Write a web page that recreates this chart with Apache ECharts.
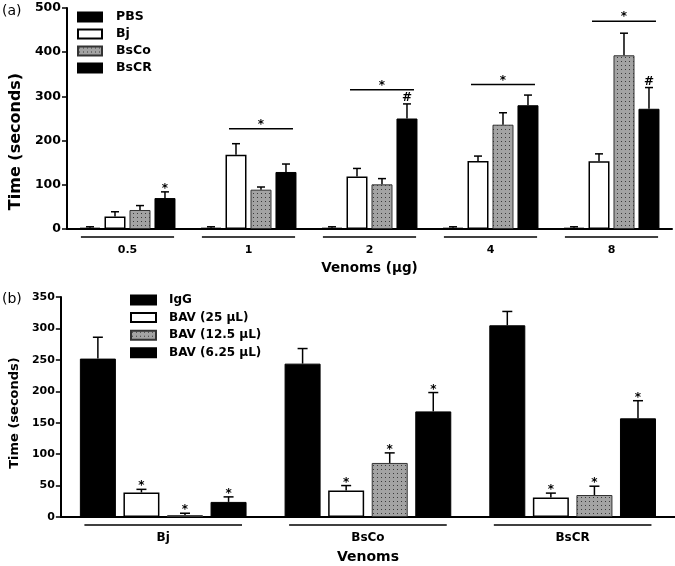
<!DOCTYPE html>
<html><head><meta charset="utf-8">
<script src="https://cdn.jsdelivr.net/npm/echarts@6/dist/echarts.min.js"></script>
<style>html,body{margin:0;padding:0;background:#fff}#c{width:675px;height:566px}</style>
</head><body><div id="c"></div>
<script>
// ---------- Panel (a) data ----------
const catsA = ['0.5', '1', '2', '4', '8'];
const namesA = ['PBS', 'Bj', 'BsCo', 'BsCR'];
const valPBS  = [3, 3, 3, 3, 3];
const errPBS  = [2, 2, 2, 2, 2];
const valBj   = [28, 168, 119, 154, 153];
const errBj   = [11, 25, 18, 11, 17];
const valBsCo = [43, 89, 101, 236, 393];
const errBsCo = [10, 6, 13, 27, 50];
const valBsCR = [70, 129, 250, 280, 272];
const errBsCR = [14, 18, 33, 23, 48];
const markPBS  = ['', '', '', '', ''];
const markBj   = ['', '', '', '', ''];
const markBsCo = ['', '', '', '', ''];
const markBsCR = ['*', '', '#', '', '#'];
const sigCatA  = [1, 2, 3, 4];          // category index of significance line
const sigValA  = [227, 315, 327, 470];   // y value of significance line
const ticksA = [0, 100, 200, 300, 400, 500];

// ---------- Panel (b) data ----------
const catsB = ['Bj', 'BsCo', 'BsCR'];
const namesB = ['IgG', 'BAV (25 µL)', 'BAV (12.5 µL)', 'BAV (6.25 µL)'];
const valIgG  = [252, 244, 305];
const errIgG  = [34, 24, 22];
const val25   = [39, 42, 31];
const err25   = [5, 8, 7];
const val125  = [3, 86, 35];
const err125  = [3, 16, 14];
const val625  = [24, 168, 157];
const err625  = [8, 30, 28];
const markIgG = ['', '', ''];
const mark25  = ['*', '*', '*'];
const mark125 = ['*', '*', '*'];
const mark625 = ['*', '*', '*'];
const ticksB = [0, 50, 100, 150, 200, 250, 300, 350];

// ---------- styling ----------
const FONT = 'DejaVu Sans';
const pc = document.createElement('canvas');
pc.width = 4; pc.height = 4;
const g = pc.getContext('2d');
g.fillStyle = '#a3a3a3'; g.fillRect(0, 0, 4, 4);
g.fillStyle = '#3a3a3a'; g.fillRect(1, 1, 1, 1);
const dotted = { image: pc, repeat: 'repeat' };
const styles = [
  { color: '#000', borderColor: '#000', borderWidth: 1 },
  { color: '#fff', borderColor: '#000', borderWidth: 1.5 },
  { color: dotted, borderColor: '#333', borderWidth: 1 },
  { color: '#000', borderColor: '#000', borderWidth: 1 }
];
const BW_A = 21, GAP_A = 0.19, BW_B = 36, GAP_B = 0.21;

function barSeries(names, vals, idx, bw, gap) {
  return names.map((n, s) => ({
    type: 'bar', name: n, xAxisIndex: idx, yAxisIndex: idx,
    data: vals[s], barWidth: bw, barGap: (gap * 100) + '%',
    itemStyle: styles[s], silent: true, z: 2
  }));
}

function errSeries(vals, errs, marks, idx, bw, gap, capW, fs) {
  const data = [], meta = [];
  vals.forEach((arr, s) => arr.forEach((v, c) => {
    data.push([c, v + errs[s][c], v]);
    meta.push({ s: s, mark: marks[s][c] });
  }));
  return {
    type: 'custom', xAxisIndex: idx, yAxisIndex: idx, data: data,
    encode: { x: 0, y: [1, 2] }, z: 5, silent: true, clip: false,
    renderItem(params, api) {
      const m = meta[params.dataIndex];
      const step = bw * (1 + gap);
      const off = (m.s - 1.5) * step;
      const top = api.coord([api.value(0), api.value(1)]);
      const base = api.coord([api.value(0), api.value(2)]);
      const x = top[0] + off;
      const ch = [
        { type: 'line', shape: { x1: x, y1: base[1], x2: x, y2: top[1] }, style: { stroke: '#000', lineWidth: 1.5 } },
        { type: 'line', shape: { x1: x - capW / 2, y1: top[1], x2: x + capW / 2, y2: top[1] }, style: { stroke: '#000', lineWidth: 1.5 } }
      ];
      if (m.mark) ch.push({ type: 'text', x: x, y: top[1] - (m.mark === '#' ? 0 : -3),
        style: { text: m.mark, font: 'bold ' + fs + 'px ' + FONT, textAlign: 'center', textVerticalAlign: 'bottom', fill: '#000' } });
      return { type: 'group', children: ch };
    }
  };
}

function sigSeries(cats, vals, idx, bw, gap) {
  return {
    type: 'custom', xAxisIndex: idx, yAxisIndex: idx,
    data: cats.map((c, i) => [c, vals[i]]), encode: { x: 0, y: 1 }, z: 5, silent: true, clip: false,
    renderItem(params, api) {
      const p = api.coord([api.value(0), api.value(1)]);
      const step = bw * (1 + gap);
      const x1 = p[0] - 0.5 * step - 7, x2 = p[0] + 1.5 * step + 7;
      return { type: 'group', children: [
        { type: 'line', shape: { x1: x1, y1: p[1], x2: x2, y2: p[1] }, style: { stroke: '#000', lineWidth: 1.5 } },
        { type: 'text', x: (x1 + x2) / 2, y: p[1] + 2, style: { text: '*', font: 'bold 12px ' + FONT, textAlign: 'center', textVerticalAlign: 'bottom', fill: '#000' } }
      ] };
    }
  };
}

function underSeries(n, idx) {
  return {
    type: 'custom', xAxisIndex: idx, yAxisIndex: idx,
    data: Array.from({ length: n }, (_, i) => [i, 0]), encode: { x: 0, y: 1 }, z: 5, silent: true, clip: false,
    renderItem(params, api) {
      const p = api.coord([api.value(0), 0]);
      const half = api.size([1, 0])[0] * 0.385;
      return { type: 'line', shape: { x1: p[0] - half, y1: p[1] + 8, x2: p[0] + half, y2: p[1] + 8 }, style: { stroke: '#000', lineWidth: 1.5 } };
    }
  };
}

const valsA = [valPBS, valBj, valBsCo, valBsCR];
const errsA = [errPBS, errBj, errBsCo, errBsCR];
const marksA = [markPBS, markBj, markBsCo, markBsCR];
const valsB = [valIgG, val25, val125, val625];
const errsB = [errIgG, err25, err125, err625];
const marksB = [markIgG, mark25, mark125, mark625];

const axisLine = { show: true, lineStyle: { color: '#000', width: 2 } };
const chart = echarts.init(document.getElementById('c'), null, { renderer: 'canvas' });
chart.setOption({
  animation: false,
  backgroundColor: '#fff',
  textStyle: { fontFamily: FONT },
  grid: [
    { left: 58, right: 3, top: 8, height: 221 },
    { left: 57, right: 0, top: 297, height: 220 }
  ],
  legend: [
    { data: namesA, orient: 'vertical', left: 72, top: 5, itemWidth: 24, itemHeight: 9, itemGap: 3,
      icon: 'rect', selectedMode: false,
      textStyle: { fontFamily: FONT, fontWeight: 'bold', fontSize: 12.5, lineHeight: 14, color: '#000', padding: [0, 0, 0, 9] } },
    { data: namesB, orient: 'vertical', left: 125, top: 288, itemWidth: 25, itemHeight: 9, itemGap: 3.6,
      icon: 'rect', selectedMode: false,
      textStyle: { fontFamily: FONT, fontWeight: 'bold', fontSize: 12, lineHeight: 14, color: '#000', padding: [0, 0, 0, 8] } }
  ],
  xAxis: [
    { type: 'category', gridIndex: 0, data: catsA, axisLine: axisLine, axisTick: { show: false },
      axisLabel: { color: '#000', fontFamily: FONT, fontWeight: 'bold', fontSize: 11, margin: 16 },
      name: 'Venoms (µg)', nameLocation: 'middle', nameGap: 32,
      nameTextStyle: { color: '#000', fontFamily: FONT, fontWeight: 'bold', fontSize: 13.5 } },
    { type: 'category', gridIndex: 1, data: catsB, axisLine: axisLine, axisTick: { show: false },
      axisLabel: { color: '#000', fontFamily: FONT, fontWeight: 'bold', fontSize: 12, margin: 15 },
      name: 'Venoms', nameLocation: 'middle', nameGap: 33,
      nameTextStyle: { color: '#000', fontFamily: FONT, fontWeight: 'bold', fontSize: 14 } }
  ],
  yAxis: [
    { type: 'value', gridIndex: 0, min: 0, max: 500, interval: 100, axisLine: axisLine,
      axisTick: { show: true, length: 5, lineStyle: { color: '#000', width: 1.5 } }, splitLine: { show: false },
      axisLabel: { color: '#000', fontFamily: FONT, fontWeight: 'bold', fontSize: 12.5, margin: 6,
        customValues: ticksA },
      name: 'Time (seconds)', nameLocation: 'middle', nameGap: 38,
      nameTextStyle: { color: '#000', fontFamily: FONT, fontWeight: 'bold', fontSize: 16, padding: [0, 46, 0, 0] } },
    { type: 'value', gridIndex: 1, min: 0, max: 350, interval: 50, axisLine: axisLine,
      axisTick: { show: true, length: 5, lineStyle: { color: '#000', width: 1.5 } }, splitLine: { show: false },
      axisLabel: { color: '#000', fontFamily: FONT, fontWeight: 'bold', fontSize: 11, margin: 6 },
      name: 'Time (seconds)', nameLocation: 'middle', nameGap: 38,
      nameTextStyle: { color: '#000', fontFamily: FONT, fontWeight: 'bold', fontSize: 13, padding: [0, 12, 0, 0] } }
  ],
  graphic: [
    { type: 'text', left: 2, top: 4, style: { text: '(a)', font: '14px ' + FONT, fill: '#000' } },
    { type: 'text', left: 2, top: 292, style: { text: '(b)', font: '14px ' + FONT, fill: '#000' } }
  ],
  series: [].concat(
    barSeries(namesA, valsA, 0, BW_A, GAP_A),
    barSeries(namesB, valsB, 1, BW_B, GAP_B),
    [errSeries(valsA, errsA, marksA, 0, BW_A, GAP_A, 8, 12),
     errSeries(valsB, errsB, marksB, 1, BW_B, GAP_B, 10, 12),
     sigSeries(sigCatA, sigValA, 0, BW_A, GAP_A),
     underSeries(catsA.length, 0),
     underSeries(catsB.length, 1)]
  )
});
</script>
</body></html>
